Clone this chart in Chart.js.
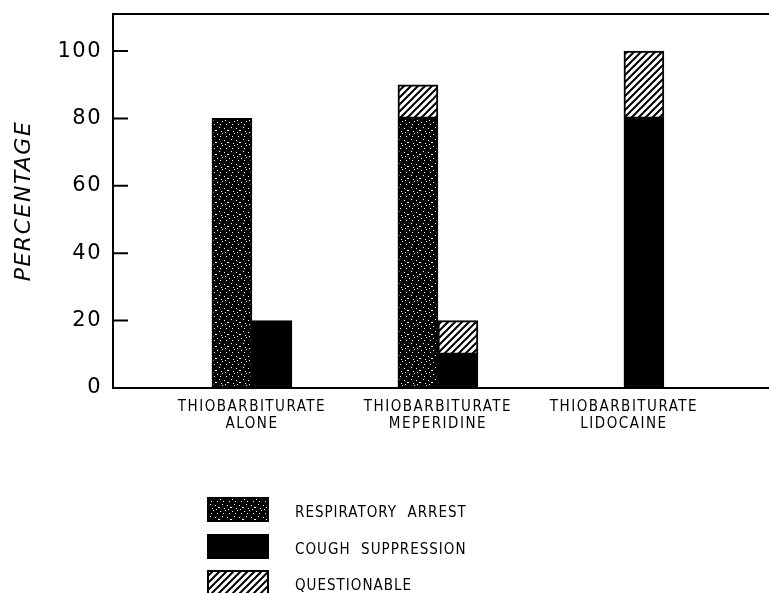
<!DOCTYPE html>
<html>
<head>
<meta charset="utf-8">
<script src="https://cdn.jsdelivr.net/npm/chart.js@4.4.1/dist/chart.umd.min.js"></script>
<style>
  body { margin: 0; background: #fff; }
  #wrap { position: relative; width: 769px; height: 440px; }
  #legend {
    position: absolute; left: 207px; top: 497px;
    font-family: "DejaVu Sans Condensed", "Liberation Sans Narrow", sans-serif;
    font-size: 15px; letter-spacing: 1px; color: #000;
  }
  .row { display: flex; align-items: center; height: 25px; margin-bottom: 11.5px; }
  .row canvas { width: 62px; height: 25px; margin-right: 26px; }
  .row span { white-space: pre; padding-top: 5px; }
</style>
</head>
<body>
<div id="wrap"><canvas id="chart"></canvas></div>
<div id="legend"></div>
<script>
const categories = [
  ["THIOBARBITURATE", "ALONE"],
  ["THIOBARBITURATE", "MEPERIDINE"],
  ["THIOBARBITURATE", "LIDOCAINE"],
];
const respiratoryArrest = [80, 80, 0];
const coughSuppression = [20, 10, 80];
const questionableOnArrest = [0, 10, 0];
const questionableOnCough = [0, 10, 20];
const yTicks = [0, 20, 40, 60, 80, 100];
const legendLabels = ["RESPIRATORY  ARREST", "COUGH  SUPPRESSION", "QUESTIONABLE"];

const helper = document.createElement("canvas").getContext("2d");

function stipple() {
  const c = document.createElement("canvas");
  c.width = c.height = 12;
  const g = c.getContext("2d");
  g.fillStyle = "#000";
  g.fillRect(0, 0, 12, 12);
  g.fillStyle = "#fff";
  const dots = [[1, 2], [6, 1], [10, 4], [3, 7], [8, 8], [5, 11], [0, 10], [11, 10], [4, 4], [9, 0]];
  dots.forEach(([x, y]) => g.fillRect(x, y, 1, 1));
  return helper.createPattern(c, "repeat");
}

function hatch() {
  const s = 7;
  const c = document.createElement("canvas");
  c.width = c.height = s;
  const g = c.getContext("2d");
  g.fillStyle = "#fff";
  g.fillRect(0, 0, s, s);
  g.strokeStyle = "#000";
  g.lineWidth = 2;
  g.beginPath();
  g.moveTo(0, s); g.lineTo(s, 0);
  g.moveTo(-2, 2); g.lineTo(2, -2);
  g.moveTo(s - 2, s + 2); g.lineTo(s + 2, s - 2);
  g.stroke();
  return helper.createPattern(c, "repeat");
}

const dotted = stipple();
const striped = hatch();
const fills = [dotted, "#000", striped];

function points(values) {
  return values.map((v, i) => ({ x: i + 1, y: v }));
}

// spaced lettering like the typed original
const spacingPlugin = {
  id: "spacing",
  beforeLayout(chart) { chart.ctx.letterSpacing = "1.5px"; },
  beforeDraw(chart) { chart.ctx.letterSpacing = "1.5px"; },
};

// frame top line and inward y ticks
const framePlugin = {
  id: "frame",
  afterDraw(chart) {
    const { ctx, chartArea } = chart;
    const y = chart.scales.y;
    ctx.save();
    ctx.strokeStyle = "#000";
    ctx.lineWidth = 2;
    ctx.beginPath();
    ctx.moveTo(chartArea.left, chartArea.top);
    ctx.lineTo(chartArea.right, chartArea.top);
    yTicks.forEach((v) => {
      if (v === 0) return;
      const py = y.getPixelForValue(v);
      ctx.moveTo(chartArea.left, py);
      ctx.lineTo(chartArea.left + 15, py);
    });
    ctx.stroke();
    ctx.restore();
  },
};

const common = { borderColor: "#000", borderWidth: 2, borderSkipped: false, barThickness: 40 };

new Chart(document.getElementById("chart"), {
  type: "bar",
  data: {
    datasets: [
      { label: "RESPIRATORY ARREST", data: points(respiratoryArrest), backgroundColor: dotted, stack: "a", ...common },
      { label: "QUESTIONABLE", data: points(questionableOnArrest), backgroundColor: striped, stack: "a", ...common },
      { label: "COUGH SUPPRESSION", data: points(coughSuppression), backgroundColor: "#000", stack: "b", ...common },
      { label: "QUESTIONABLE", data: points(questionableOnCough), backgroundColor: striped, stack: "b", ...common },
    ],
  },
  options: {
    responsive: true,
    maintainAspectRatio: false,
    animation: false,
    layout: { padding: { top: 14, right: 0 } },
    plugins: { legend: { display: false }, tooltip: { enabled: false } },
    scales: {
      x: {
        type: "linear",
        offset: false,
        min: 0.253,
        max: 3.78,
        stacked: true,
        afterBuildTicks: (s) => { s.ticks = categories.map((c, i) => ({ value: i + 1 })); },
        afterFit: (s) => { s.height = 52; s.paddingLeft = 0; s.paddingRight = 0; },
        grid: { drawOnChartArea: false, drawTicks: false },
        border: { display: true, color: "#000", width: 2 },
        ticks: {
          callback: (v) => categories[v - 1],
          color: "#000",
          padding: 10,
          maxRotation: 0,
          autoSkip: false,
          font: { family: "'DejaVu Sans Condensed', 'Liberation Sans Narrow', sans-serif", size: 15, lineHeight: 1.15 },
        },
      },
      y: {
        stacked: true,
        min: 0,
        max: 111,
        afterBuildTicks: (s) => { s.ticks = yTicks.map((v) => ({ value: v })); },
        afterFit: (s) => { s.width = 113; s.paddingTop = 0; s.paddingBottom = 0; },
        grid: { drawOnChartArea: false, drawTicks: false },
        border: { display: true, color: "#000", width: 2 },
        ticks: {
          color: "#000",
          padding: 11,
          font: { family: "'DejaVu Sans', sans-serif", size: 21 },
        },
        title: {
          display: true,
          text: "PERCENTAGE",
          color: "#000",
          padding: { top: 11 },
          font: { family: "'DejaVu Sans', sans-serif", size: 22, style: "italic" },
        },
      },
    },
  },
  plugins: [spacingPlugin, framePlugin],
});

const legend = document.getElementById("legend");
legendLabels.forEach((text, i) => {
  const row = document.createElement("div");
  row.className = "row";
  const box = document.createElement("canvas");
  box.width = 62;
  box.height = 25;
  const g = box.getContext("2d");
  g.fillStyle = fills[i];
  g.fillRect(0, 0, 62, 25);
  g.strokeStyle = "#000";
  g.lineWidth = 2;
  g.strokeRect(1, 1, 60, 23);
  const label = document.createElement("span");
  label.textContent = text;
  row.appendChild(box);
  row.appendChild(label);
  legend.appendChild(row);
});
</script>
</body>
</html>
